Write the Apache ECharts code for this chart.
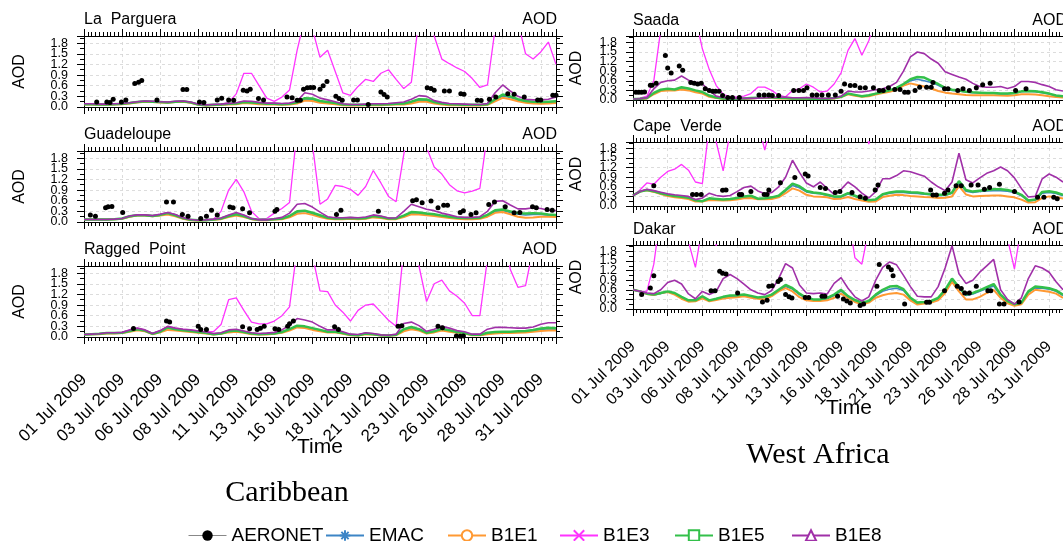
<!DOCTYPE html>
<html>
<head>
<meta charset="utf-8">
<script src="https://cdn.jsdelivr.net/npm/echarts@6/dist/echarts.min.js"></script>
<style>
  html, body { margin: 0; padding: 0; overflow: hidden; background: #fff; }
  #chart { width: 1063px; height: 541px; }
</style>
</head>
<body>
<div id="chart"></div>
<script>
// model output every 12 h from 01 Jul 2009 00:00, AERONET as [hour, AOD]
const HOURS_STEP = 12;

const lpEMAC = [0.08,0.08,0.07,0.07,0.08,0.09,0.11,0.14,0.15,0.15,0.14,0.13,0.14,0.15,0.12,0.07,0.05,0.06,0.07,0.08,0.10,0.13,0.12,0.10,0.09,0.08,0.08,0.08,0.12,0.22,0.21,0.15,0.12,0.10,0.06,0.05,0.05,0.06,0.06,0.07,0.07,0.08,0.09,0.13,0.20,0.19,0.12,0.09,0.07,0.06,0.06,0.05,0.05,0.07,0.20,0.31,0.27,0.20,0.15,0.13,0.12,0.13,0.14];
const lpB1E1 = [0.07,0.07,0.06,0.06,0.07,0.08,0.10,0.13,0.15,0.14,0.13,0.12,0.14,0.15,0.12,0.06,0.04,0.05,0.06,0.07,0.08,0.11,0.10,0.08,0.07,0.07,0.06,0.07,0.10,0.18,0.17,0.12,0.10,0.08,0.05,0.04,0.04,0.05,0.05,0.05,0.06,0.07,0.07,0.10,0.15,0.15,0.10,0.07,0.05,0.05,0.04,0.04,0.04,0.06,0.16,0.26,0.22,0.16,0.12,0.10,0.09,0.10,0.11];
const lpB1E3 = [0.09,0.09,0.08,0.08,0.09,0.10,0.12,0.15,0.17,0.16,0.15,0.14,0.16,0.17,0.14,0.08,0.06,0.07,0.08,0.13,0.37,0.95,0.95,0.60,0.25,0.16,0.28,0.48,1.60,2.50,2.20,1.40,1.60,1.00,0.40,0.33,0.58,0.78,0.72,0.95,1.05,0.78,0.52,0.70,2.50,3.00,2.00,1.35,1.22,1.10,1.00,0.80,0.55,0.62,2.20,3.00,3.00,2.40,1.50,1.35,1.55,1.83,1.20];
const lpB1E5 = [0.08,0.08,0.07,0.07,0.08,0.09,0.11,0.14,0.16,0.15,0.14,0.13,0.15,0.16,0.13,0.07,0.05,0.06,0.07,0.09,0.10,0.14,0.13,0.11,0.09,0.09,0.08,0.09,0.13,0.25,0.24,0.17,0.14,0.11,0.07,0.06,0.06,0.06,0.07,0.07,0.08,0.09,0.10,0.15,0.22,0.21,0.14,0.10,0.08,0.07,0.06,0.06,0.06,0.08,0.22,0.35,0.30,0.22,0.17,0.15,0.14,0.15,0.16];
const lpB1E8 = [0.09,0.09,0.08,0.08,0.09,0.10,0.12,0.15,0.17,0.16,0.15,0.14,0.16,0.17,0.14,0.08,0.06,0.07,0.08,0.10,0.12,0.17,0.16,0.13,0.11,0.11,0.10,0.11,0.17,0.40,0.36,0.25,0.20,0.15,0.09,0.07,0.07,0.08,0.09,0.09,0.10,0.12,0.14,0.22,0.32,0.30,0.18,0.13,0.10,0.09,0.08,0.07,0.07,0.10,0.40,0.62,0.45,0.30,0.22,0.20,0.20,0.22,0.28];
const lpAeronet = [[20,0.14],[36,0.14],[41,0.13],[46,0.22],[59,0.14],[66,0.2],[80,0.66],[86,0.7],[91,0.75],[115,0.2],[156,0.49],[162,0.49],[182,0.14],[189,0.13],[210,0.2],[217,0.25],[228,0.2],[236,0.19],[251,0.47],[257,0.45],[262,0.5],[275,0.24],[283,0.2],[320,0.28],[328,0.26],[336,0.19],[341,0.19],[346,0.5],[352,0.54],[357,0.55],[362,0.55],[372,0.5],[377,0.6],[383,0.72],[397,0.3],[402,0.24],[407,0.19],[425,0.2],[431,0.2],[448,0.07],[468,0.42],[473,0.35],[478,0.28],[541,0.54],[547,0.52],[552,0.47],[568,0.45],[576,0.45],[594,0.37],[599,0.36],[620,0.19],[626,0.18],[639,0.22],[649,0.28],[668,0.37],[678,0.36],[694,0.28],[715,0.2],[720,0.2],[739,0.33],[744,0.33]];

const gdEMAC = [0.07,0.07,0.07,0.07,0.08,0.10,0.15,0.18,0.18,0.16,0.19,0.23,0.18,0.10,0.06,0.05,0.05,0.07,0.09,0.16,0.20,0.16,0.09,0.06,0.06,0.08,0.10,0.16,0.28,0.30,0.24,0.17,0.11,0.09,0.09,0.10,0.09,0.10,0.15,0.13,0.09,0.09,0.16,0.26,0.25,0.22,0.20,0.16,0.13,0.11,0.10,0.10,0.11,0.18,0.30,0.32,0.27,0.22,0.20,0.21,0.21,0.19,0.18];
const gdB1E1 = [0.07,0.07,0.07,0.07,0.08,0.09,0.15,0.18,0.18,0.16,0.18,0.21,0.16,0.09,0.05,0.04,0.05,0.06,0.08,0.14,0.18,0.14,0.08,0.05,0.05,0.07,0.08,0.13,0.23,0.25,0.20,0.14,0.09,0.08,0.08,0.09,0.08,0.09,0.13,0.11,0.08,0.08,0.14,0.22,0.21,0.19,0.17,0.14,0.11,0.09,0.08,0.08,0.09,0.15,0.26,0.28,0.22,0.15,0.12,0.13,0.15,0.15,0.14];
const gdB1E3 = [0.07,0.07,0.07,0.07,0.08,0.10,0.17,0.20,0.20,0.18,0.22,0.27,0.21,0.12,0.07,0.05,0.06,0.08,0.30,0.90,1.20,0.85,0.30,0.09,0.10,0.25,0.38,0.55,2.60,3.00,2.20,0.50,0.65,1.03,1.00,0.92,0.75,1.00,1.45,1.10,0.72,0.57,1.90,3.00,3.00,2.10,1.55,1.35,1.05,0.88,0.82,0.87,0.95,2.50,3.00,3.00,3.00,3.00,3.00,3.00,3.00,3.00,3.00];
const gdB1E5 = [0.07,0.07,0.07,0.07,0.08,0.10,0.16,0.19,0.19,0.17,0.20,0.25,0.19,0.11,0.06,0.05,0.05,0.07,0.10,0.17,0.22,0.17,0.09,0.06,0.06,0.08,0.10,0.17,0.30,0.32,0.26,0.19,0.12,0.10,0.10,0.11,0.10,0.11,0.17,0.14,0.10,0.10,0.18,0.28,0.27,0.24,0.22,0.18,0.15,0.12,0.11,0.11,0.12,0.20,0.33,0.35,0.30,0.25,0.24,0.25,0.24,0.21,0.20];
const gdB1E8 = [0.07,0.07,0.07,0.07,0.08,0.10,0.17,0.20,0.20,0.18,0.22,0.27,0.21,0.12,0.07,0.05,0.06,0.08,0.11,0.20,0.27,0.20,0.10,0.06,0.06,0.09,0.13,0.25,0.50,0.52,0.42,0.28,0.15,0.12,0.12,0.13,0.12,0.14,0.20,0.17,0.11,0.12,0.30,0.50,0.43,0.36,0.32,0.25,0.20,0.15,0.13,0.13,0.15,0.30,0.58,0.60,0.48,0.37,0.37,0.40,0.38,0.33,0.32];
const gdAeronet = [[10,0.2],[18,0.16],[34,0.4],[38,0.43],[44,0.44],[61,0.27],[130,0.56],[141,0.56],[155,0.21],[164,0.16],[184,0.1],[193,0.16],[201,0.33],[210,0.2],[230,0.42],[235,0.4],[250,0.37],[261,0.26],[301,0.3],[304,0.35],[398,0.21],[405,0.33],[464,0.3],[518,0.6],[524,0.63],[533,0.54],[547,0.59],[558,0.4],[567,0.47],[573,0.47],[593,0.27],[598,0.32],[610,0.21],[618,0.26],[638,0.49],[647,0.56],[664,0.43],[678,0.26],[687,0.27],[707,0.43],[713,0.4],[730,0.35],[738,0.33]];

const rpEMAC = [0.07,0.08,0.09,0.11,0.11,0.12,0.16,0.21,0.17,0.09,0.15,0.26,0.21,0.18,0.16,0.13,0.11,0.08,0.10,0.15,0.17,0.13,0.09,0.08,0.08,0.10,0.13,0.20,0.30,0.28,0.23,0.18,0.14,0.14,0.10,0.06,0.05,0.09,0.08,0.05,0.04,0.06,0.20,0.26,0.20,0.11,0.15,0.21,0.17,0.13,0.10,0.06,0.05,0.10,0.12,0.13,0.13,0.14,0.15,0.18,0.21,0.23,0.22];
const rpB1E1 = [0.07,0.08,0.08,0.10,0.10,0.11,0.15,0.19,0.16,0.08,0.13,0.20,0.18,0.16,0.14,0.12,0.10,0.07,0.09,0.13,0.15,0.12,0.08,0.07,0.07,0.09,0.12,0.18,0.27,0.25,0.20,0.16,0.13,0.13,0.09,0.05,0.04,0.08,0.07,0.04,0.04,0.05,0.16,0.22,0.18,0.10,0.13,0.18,0.15,0.12,0.10,0.05,0.05,0.08,0.10,0.11,0.11,0.12,0.13,0.15,0.17,0.18,0.18];
const rpB1E3 = [0.07,0.08,0.09,0.12,0.12,0.13,0.20,0.25,0.20,0.10,0.18,0.30,0.25,0.22,0.20,0.17,0.15,0.15,0.35,1.05,1.10,0.75,0.42,0.37,0.37,0.45,0.60,0.85,2.50,3.00,2.30,1.30,1.28,0.90,0.70,0.45,0.75,0.90,0.93,0.70,0.47,0.30,2.50,3.00,2.00,1.00,1.50,1.60,1.30,1.15,0.95,0.60,0.60,2.20,3.00,3.00,1.90,1.40,1.45,2.50,3.00,3.00,3.00];
const rpB1E5 = [0.07,0.08,0.09,0.11,0.11,0.12,0.17,0.22,0.18,0.09,0.15,0.27,0.22,0.19,0.17,0.14,0.12,0.08,0.10,0.16,0.18,0.14,0.10,0.08,0.09,0.10,0.14,0.22,0.32,0.30,0.25,0.20,0.15,0.15,0.11,0.06,0.05,0.10,0.08,0.05,0.04,0.06,0.22,0.28,0.22,0.12,0.16,0.23,0.19,0.14,0.11,0.06,0.06,0.12,0.14,0.15,0.15,0.16,0.17,0.20,0.24,0.26,0.25];
const rpB1E8 = [0.07,0.08,0.09,0.12,0.12,0.13,0.20,0.25,0.20,0.10,0.18,0.30,0.25,0.22,0.20,0.17,0.14,0.10,0.12,0.20,0.22,0.17,0.12,0.10,0.11,0.13,0.20,0.33,0.52,0.48,0.42,0.30,0.20,0.20,0.15,0.08,0.07,0.12,0.10,0.06,0.05,0.08,0.38,0.42,0.32,0.16,0.22,0.30,0.25,0.18,0.15,0.08,0.08,0.22,0.27,0.27,0.26,0.25,0.25,0.28,0.36,0.40,0.40];
const rpAeronet = [[78,0.24],[130,0.45],[135,0.42],[180,0.3],[184,0.21],[193,0.21],[250,0.29],[261,0.23],[273,0.21],[278,0.25],[284,0.3],[301,0.23],[307,0.21],[321,0.3],[324,0.37],[330,0.45],[395,0.29],[401,0.21],[495,0.3],[501,0.32],[558,0.3],[565,0.26],[587,0.03],[593,0.02],[598,0.03]];

const saEMAC = [0.03,0.04,0.06,0.21,0.31,0.34,0.32,0.38,0.35,0.29,0.24,0.13,0.07,0.05,0.04,0.04,0.05,0.06,0.07,0.07,0.07,0.07,0.06,0.05,0.05,0.05,0.04,0.04,0.04,0.06,0.10,0.19,0.15,0.12,0.14,0.19,0.24,0.28,0.36,0.47,0.60,0.65,0.60,0.55,0.46,0.35,0.30,0.28,0.25,0.23,0.22,0.21,0.21,0.19,0.19,0.21,0.26,0.27,0.26,0.23,0.19,0.13,0.11];
const saB1E1 = [0.03,0.03,0.05,0.18,0.28,0.30,0.30,0.33,0.30,0.24,0.20,0.10,0.06,0.04,0.03,0.03,0.04,0.05,0.06,0.06,0.06,0.05,0.05,0.04,0.04,0.04,0.03,0.03,0.03,0.05,0.09,0.18,0.13,0.10,0.12,0.17,0.22,0.26,0.32,0.45,0.52,0.47,0.42,0.36,0.28,0.23,0.20,0.18,0.16,0.15,0.15,0.15,0.15,0.14,0.13,0.15,0.18,0.18,0.17,0.15,0.12,0.09,0.08];
const saB1E3 = [0.03,0.06,0.12,0.60,2.20,3.00,3.00,3.00,3.00,2.60,1.60,0.95,0.45,0.18,0.10,0.10,0.12,0.20,0.40,0.40,0.30,0.15,0.10,0.30,0.35,0.50,0.40,0.25,0.28,0.50,0.85,1.55,1.92,1.40,1.85,2.60,3,3,3,3,3,3,3,3,3,3,3,3,3,3,3,3,3,3,3,3,3,3,3,3,3,3,3];
const saB1E5 = [0.03,0.04,0.06,0.22,0.32,0.35,0.33,0.40,0.36,0.30,0.25,0.14,0.08,0.05,0.04,0.04,0.05,0.06,0.07,0.08,0.08,0.07,0.06,0.05,0.05,0.05,0.04,0.04,0.04,0.06,0.10,0.20,0.16,0.12,0.15,0.20,0.25,0.30,0.38,0.50,0.65,0.72,0.70,0.60,0.50,0.38,0.32,0.30,0.26,0.24,0.23,0.22,0.22,0.20,0.20,0.22,0.27,0.28,0.27,0.24,0.20,0.14,0.12];
const saB1E8 = [0.03,0.04,0.07,0.35,0.55,0.60,0.62,0.75,0.62,0.55,0.50,0.30,0.12,0.08,0.06,0.05,0.05,0.05,0.06,0.07,0.08,0.09,0.09,0.07,0.07,0.08,0.07,0.05,0.05,0.06,0.12,0.28,0.25,0.25,0.28,0.32,0.35,0.42,0.55,0.90,1.35,1.50,1.45,1.28,1.15,0.88,0.80,0.72,0.65,0.52,0.42,0.40,0.40,0.42,0.36,0.42,0.58,0.58,0.55,0.48,0.42,0.32,0.28];
const saAeronet = [[5,0.24],[10,0.24],[15,0.24],[20,0.25],[30,0.46],[33,0.46],[40,0.52],[56,1.39],[60,1.0],[66,0.84],[80,1.06],[86,0.93],[100,0.55],[106,0.52],[112,0.5],[118,0.52],[125,0.35],[132,0.3],[138,0.27],[143,0.27],[149,0.27],[155,0.14],[164,0.08],[172,0.08],[184,0.08],[218,0.16],[227,0.16],[235,0.16],[241,0.14],[252,0.14],[278,0.3],[287,0.3],[295,0.3],[301,0.38],[310,0.16],[318,0.16],[327,0.16],[338,0.16],[350,0.16],[360,0.27],[366,0.5],[376,0.45],[384,0.45],[393,0.38],[402,0.38],[416,0.38],[426,0.3],[433,0.3],[442,0.38],[453,0.33],[462,0.33],[470,0.24],[476,0.24],[488,0.3],[496,0.4],[508,0.4],[516,0.4],[519,0.55],[539,0.35],[545,0.35],[562,0.3],[571,0.35],[582,0.3],[594,0.38],[605,0.48],[618,0.52],[662,0.3],[680,0.35]];

const cvEMAC = [0.33,0.45,0.50,0.45,0.39,0.34,0.30,0.28,0.25,0.17,0.15,0.23,0.21,0.19,0.21,0.24,0.28,0.30,0.22,0.23,0.26,0.30,0.47,0.64,0.57,0.44,0.40,0.38,0.33,0.28,0.28,0.37,0.30,0.22,0.17,0.19,0.35,0.40,0.42,0.42,0.40,0.39,0.37,0.35,0.33,0.33,0.40,0.72,0.46,0.42,0.45,0.47,0.48,0.48,0.46,0.42,0.32,0.16,0.18,0.40,0.42,0.39,0.32];
const cvB1E1 = [0.33,0.45,0.49,0.44,0.37,0.31,0.27,0.25,0.22,0.14,0.14,0.19,0.18,0.17,0.18,0.20,0.24,0.25,0.21,0.21,0.22,0.27,0.40,0.55,0.48,0.35,0.30,0.29,0.27,0.22,0.23,0.28,0.22,0.17,0.13,0.14,0.28,0.32,0.35,0.34,0.31,0.30,0.28,0.27,0.25,0.26,0.30,0.62,0.36,0.30,0.31,0.32,0.33,0.33,0.30,0.27,0.20,0.11,0.12,0.25,0.30,0.28,0.23];
const cvB1E3 = [0.33,0.50,0.72,0.68,0.90,1.08,1.15,1.30,1.12,0.75,0.70,2.50,2.00,1.10,2.30,3,3,3,2.60,1.75,2.60,3,3,3,3,3,3,3,3,3,3,3,3,3,1.93,3,3,3,3,3,3,3,3,3,3,3,3,3,3,3,3,3,3,3,3,3,3,3,3,3,3,3,3];
const cvB1E5 = [0.33,0.45,0.50,0.46,0.40,0.35,0.31,0.29,0.26,0.18,0.15,0.24,0.22,0.20,0.22,0.25,0.30,0.32,0.23,0.24,0.27,0.32,0.50,0.70,0.62,0.47,0.42,0.40,0.35,0.30,0.30,0.40,0.32,0.24,0.18,0.20,0.37,0.42,0.45,0.45,0.43,0.42,0.39,0.37,0.35,0.35,0.42,0.78,0.50,0.45,0.48,0.50,0.52,0.52,0.50,0.45,0.35,0.17,0.20,0.44,0.46,0.42,0.35];
const cvB1E8 = [0.33,0.45,0.52,0.48,0.43,0.38,0.35,0.33,0.30,0.20,0.25,0.40,0.33,0.30,0.33,0.45,0.58,0.62,0.47,0.38,0.42,0.60,0.90,1.43,1.05,0.72,0.60,0.75,0.55,0.36,0.52,0.75,0.60,0.40,0.25,0.45,0.85,0.85,0.95,1.10,1.07,1.00,0.93,0.75,0.60,0.48,0.75,1.65,0.82,0.72,0.88,1.02,1.10,1.22,1.10,0.88,0.55,0.28,0.30,0.85,1.00,0.90,0.75];
const cvAeronet = [[36,0.63],[103,0.36],[110,0.36],[118,0.36],[155,0.49],[161,0.5],[184,0.36],[188,0.36],[204,0.45],[227,0.36],[232,0.36],[235,0.5],[255,0.73],[280,0.89],[298,1.0],[303,0.94],[324,0.58],[333,0.55],[350,0.42],[358,0.45],[379,0.42],[393,0.29],[402,0.24],[419,0.5],[424,0.66],[515,0.5],[519,0.34],[525,0.34],[539,0.4],[545,0.5],[559,0.63],[568,0.63],[585,0.66],[597,0.66],[608,0.52],[617,0.58],[634,0.68],[660,0.45],[700,0.27],[711,0.27],[728,0.27],[734,0.23]];

const dkEMAC = [0.60,0.55,0.48,0.44,0.48,0.53,0.48,0.36,0.25,0.26,0.37,0.26,0.30,0.36,0.40,0.41,0.43,0.39,0.34,0.36,0.43,0.57,0.70,0.62,0.45,0.33,0.28,0.28,0.32,0.42,0.56,0.38,0.26,0.19,0.23,0.42,0.55,0.62,0.65,0.58,0.33,0.18,0.20,0.23,0.32,0.56,0.90,0.64,0.42,0.47,0.55,0.64,0.72,0.42,0.23,0.14,0.18,0.52,0.66,0.65,0.62,0.55,0.42];
const dkB1E1 = [0.60,0.55,0.47,0.44,0.50,0.53,0.45,0.32,0.23,0.24,0.33,0.24,0.28,0.33,0.35,0.37,0.40,0.35,0.32,0.30,0.40,0.55,0.65,0.55,0.37,0.27,0.25,0.25,0.27,0.35,0.48,0.35,0.22,0.15,0.20,0.35,0.43,0.48,0.50,0.45,0.27,0.14,0.17,0.20,0.27,0.50,0.85,0.55,0.30,0.30,0.38,0.50,0.60,0.35,0.18,0.10,0.15,0.45,0.60,0.57,0.54,0.48,0.35];
const dkB1E3 = [0.60,0.55,0.55,1.40,3,3,3,3,2.10,1.30,2.60,3,1.97,3,3,3,3,3,3,3,3,3,3,3,3,3,3,3,3,3,3,3,1.60,1.40,2.50,3,3,3,3,3,3,3,3,3,3,3,3,3,3,3,3,3,3,3,2.20,1.25,2.60,3,3,3,3,3,3];
const dkB1E5 = [0.60,0.55,0.48,0.45,0.50,0.55,0.50,0.38,0.27,0.27,0.40,0.27,0.32,0.38,0.42,0.43,0.45,0.41,0.36,0.38,0.45,0.60,0.75,0.65,0.48,0.35,0.30,0.30,0.35,0.45,0.60,0.40,0.28,0.20,0.25,0.45,0.60,0.70,0.72,0.62,0.35,0.20,0.22,0.25,0.35,0.60,0.95,0.68,0.45,0.50,0.58,0.68,0.78,0.45,0.25,0.15,0.20,0.55,0.70,0.68,0.65,0.58,0.45];
const dkB1E8 = [0.60,0.55,0.50,0.48,0.60,0.83,0.90,0.78,0.47,0.32,0.55,0.45,0.55,0.95,1.08,0.95,0.78,0.60,0.50,0.45,0.58,0.95,1.42,1.28,0.75,0.50,0.48,0.50,0.47,0.80,0.98,0.65,0.38,0.25,0.38,0.90,1.30,1.47,1.38,1.05,0.70,0.40,0.38,0.38,0.70,1.28,1.98,1.10,0.80,0.90,1.15,1.35,1.55,0.60,0.30,0.15,0.35,0.95,1.35,1.28,1.15,0.85,0.60];
const dkAeronet = [[15,0.45],[30,0.66],[36,1.04],[135,0.57],[142,0.57],[150,1.18],[155,1.12],[161,1.09],[181,0.5],[224,0.22],[232,0.27],[235,0.71],[241,0.73],[251,0.86],[255,0.92],[264,0.45],[270,0.38],[275,0.34],[298,0.36],[304,0.36],[327,0.4],[332,0.4],[354,0.4],[364,0.31],[370,0.25],[376,0.19],[393,0.11],[399,0.16],[422,0.71],[426,1.39],[442,1.31],[447,1.23],[450,1.04],[470,0.16],[508,0.21],[513,0.21],[539,0.57],[561,0.71],[568,0.64],[574,0.5],[582,0.5],[594,0.71],[614,0.57],[619,0.57],[634,0.16],[642,0.16],[668,0.22]];

const models = [
  { name: 'EMAC', color: '#3d85c6', width: 1.5, symbol: 'path://M5,0L5,10M0,5L10,5M1.5,1.5L8.5,8.5M8.5,1.5L1.5,8.5' },
  { name: 'B1E1', color: '#ff9933', width: 2, symbol: 'emptyCircle' },
  { name: 'B1E3', color: '#ff33ff', width: 1.3, symbol: 'path://M0,0L10,10M10,0L0,10' },
  { name: 'B1E5', color: '#33c04a', width: 2.5, symbol: 'emptyRect' },
  { name: 'B1E8', color: '#a030a8', width: 1.6, symbol: 'emptyTriangle' }
];

const panels = [
  { title: 'La  Parguera', left: 84, top: 36, width: 472, height: 71, side: 'L', last: false, obs: lpAeronet, runs: [lpEMAC, lpB1E1, lpB1E3, lpB1E5, lpB1E8] },
  { title: 'Guadeloupe', left: 84, top: 151, width: 472, height: 71, side: 'L', last: false, obs: gdAeronet, runs: [gdEMAC, gdB1E1, gdB1E3, gdB1E5, gdB1E8] },
  { title: 'Ragged  Point', left: 84, top: 266, width: 472, height: 71, side: 'L', last: true, obs: rpAeronet, runs: [rpEMAC, rpB1E1, rpB1E3, rpB1E5, rpB1E8] },
  { title: 'Saada', left: 633, top: 36, width: 433, height: 64, side: 'R', last: false, obs: saAeronet, runs: [saEMAC, saB1E1, saB1E3, saB1E5, saB1E8] },
  { title: 'Cape  Verde', left: 633, top: 142, width: 433, height: 64, side: 'R', last: false, obs: cvAeronet, runs: [cvEMAC, cvB1E1, cvB1E3, cvB1E5, cvB1E8] },
  { title: 'Dakar', left: 633, top: 245, width: 433, height: 64, side: 'R', last: true, obs: dkAeronet, runs: [dkEMAC, dkB1E1, dkB1E3, dkB1E5, dkB1E8] }
];

const FONT = '"Liberation Sans", Arial, sans-serif';
const dayLabel = h => {
  const d = Math.floor(h / 24) + 1;
  return (d < 10 ? '0' : '') + d + ' Jul 2009';
};

const tick = { show: true, length: 7, lineStyle: { color: '#000', width: 1 } };
const minor = n => ({ show: true, splitNumber: n, length: 4, lineStyle: { color: '#000', width: 1 } });
const grid_line = { show: true, lineStyle: { color: '#d4d4d4', width: 0.8, type: [3, 3] } };
const axisLine = { onZero: false, lineStyle: { color: '#000', width: 1 } };
const yLabel = { margin: 16, fontSize: 12.5, fontFamily: FONT, color: '#000', hideOverlap: false };

const grids = [], xAxes = [], yAxes = [], series = [], graphic = [];

panels.forEach((p, k) => {
  const L = p.side === 'L';
  grids.push({ left: p.left, top: p.top, width: p.width, height: p.height });
  const xBase = {
    type: 'value', gridIndex: k, min: 0, max: 744, interval: 60,
    axisLine: axisLine, axisTick: tick, minorTick: minor(10)
  };
  xAxes.push(Object.assign({}, xBase, {
    position: 'bottom', splitLine: grid_line,
    axisLabel: {
      show: p.last, rotate: 45, margin: L ? 40 : 35, fontSize: L ? 17 : 16, fontFamily: FONT, color: '#000',
      showMaxLabel: false, showMinLabel: true, hideOverlap: false, formatter: dayLabel
    }
  }));
  xAxes.push(Object.assign({}, xBase, { position: 'top', splitLine: { show: false }, axisLabel: { show: false } }));

  const yBase = {
    type: 'value', gridIndex: k, min: 0, max: 2, interval: 0.3,
    axisLine: axisLine, axisTick: tick, minorTick: minor(2)
  };
  // labels 0.3 .. 1.8; the 0.0 label sits on its own axis so ECharts does not drop 0.3 as overlapping
  yAxes.push(Object.assign({}, yBase, {
    position: 'left', splitLine: grid_line,
    axisLabel: Object.assign({}, yLabel, { showMaxLabel: false, showMinLabel: false, formatter: v => v.toFixed(1) }),
    name: 'AOD', nameLocation: 'middle', nameGap: L ? 56 : 48,
    nameTextStyle: { fontSize: 16, fontFamily: FONT, color: '#000' }
  }));
  yAxes.push(Object.assign({}, yBase, { position: 'right', splitLine: { show: false }, axisLabel: { show: false } }));
  yAxes.push({
    type: 'value', gridIndex: k, min: 0, max: 2, interval: 0.3, position: 'left',
    axisLine: { show: false, onZero: false }, axisTick: { show: false }, splitLine: { show: false },
    axisLabel: Object.assign({}, yLabel, { showMaxLabel: false, showMinLabel: true, formatter: v => (v === 0 ? '0.0' : '') })
  });

  models.forEach((m, j) => {
    series.push({
      type: 'line', name: m.name, xAxisIndex: 2 * k, yAxisIndex: 3 * k,
      data: p.runs[j].map((v, i) => [i * HOURS_STEP, v]),
      showSymbol: false, symbol: m.symbol, symbolSize: 9,
      lineStyle: { color: m.color, width: m.width },
      itemStyle: { color: m.color, borderColor: m.color, borderWidth: 1.2 },
      z: 2 + j
    });
  });
  series.push({
    type: 'line', name: 'AERONET', xAxisIndex: 2 * k, yAxisIndex: 3 * k,
    data: p.obs, symbol: 'circle', symbolSize: 5, showSymbol: true,
    lineStyle: { opacity: 0 }, itemStyle: { color: '#000' }, z: 10
  });

  const ty = p.top - (L ? 16 : 15);
  graphic.push({ type: 'text', x: p.left, y: ty, style: { text: p.title, font: '16px ' + FONT, fill: '#000', align: 'left', verticalAlign: 'middle' } });
  graphic.push({ type: 'text', x: p.left + p.width + 1, y: ty, style: { text: 'AOD', font: '16px ' + FONT, fill: '#000', align: 'right', verticalAlign: 'middle' } });
});

// axis titles under the date labels, and the region captions
graphic.push({ type: 'text', x: 320, y: 447, style: { text: 'Time', font: '21px ' + FONT, fill: '#000', align: 'center', verticalAlign: 'middle' } });
graphic.push({ type: 'text', x: 849, y: 408, style: { text: 'Time', font: '21px ' + FONT, fill: '#000', align: 'center', verticalAlign: 'middle' } });
graphic.push({ type: 'text', x: 287, y: 493, style: { text: 'Caribbean', font: '30px "Liberation Serif", "DejaVu Serif", serif', fill: '#000', align: 'center', verticalAlign: 'middle' } });
graphic.push({ type: 'text', x: 818, y: 455, style: { text: 'West Africa', font: '30px "Liberation Serif", "DejaVu Serif", serif', fill: '#000', align: 'center', verticalAlign: 'middle' } });

// one legend per entry so every item sits where it does in the figure
const legendSpots = [['AERONET', 183], ['EMAC', 320], ['B1E1', 442], ['B1E3', 554], ['B1E5', 669], ['B1E8', 786]];
const legends = legendSpots.map(([name, x]) => ({
  left: x, top: 521, itemWidth: 38, itemHeight: 13, itemGap: 0, selectedMode: false,
  textStyle: { fontSize: 19, fontFamily: FONT, color: '#000' },
  data: [name === 'AERONET' ? { name: name, lineStyle: { color: '#888', width: 1, opacity: 1 } } : name]
}));

const chart = echarts.init(document.getElementById('chart'));
chart.setOption({
  animation: false,
  backgroundColor: '#fff',
  grid: grids,
  xAxis: xAxes,
  yAxis: yAxes,
  legend: legends,
  graphic: graphic,
  series: series
});
</script>
</body>
</html>
